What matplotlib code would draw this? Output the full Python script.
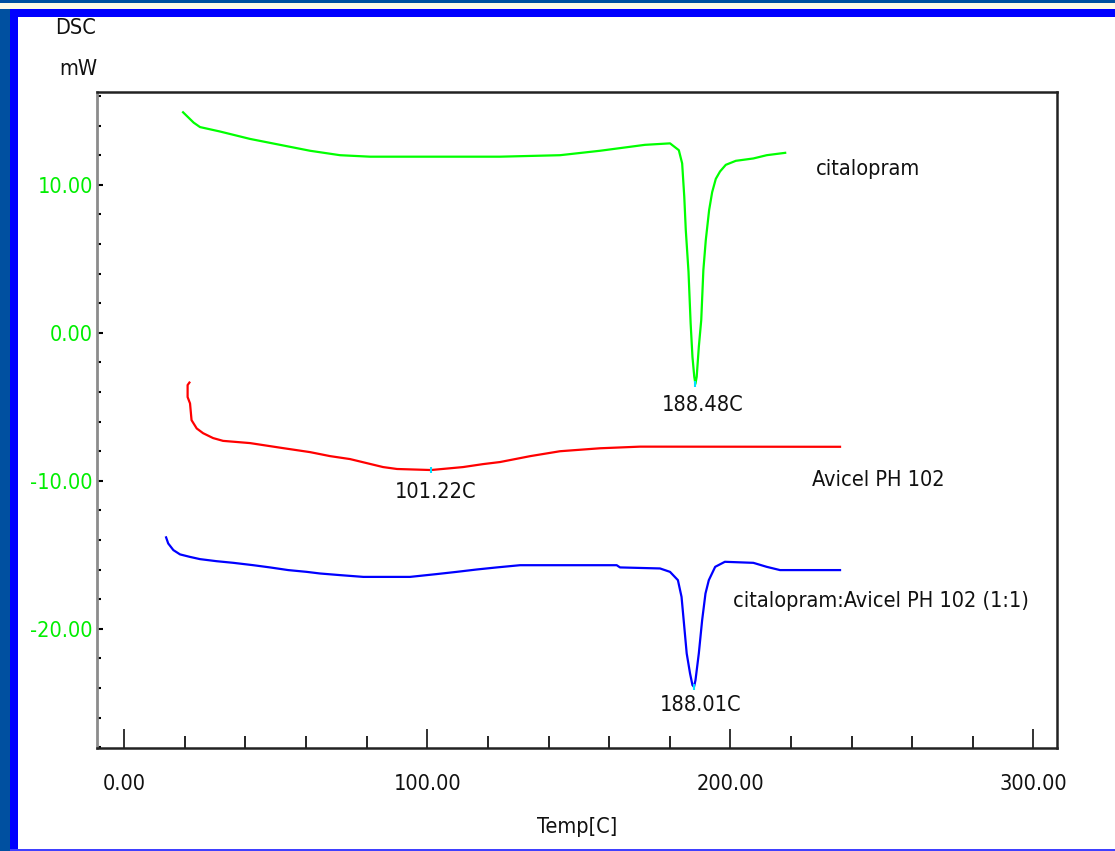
import numpy as np
import matplotlib
matplotlib.use("Agg")
import matplotlib.pyplot as plt
from matplotlib import font_manager
from matplotlib.patches import Rectangle
from matplotlib.ticker import MultipleLocator

## font: the most condensed plain sans we can find
order = {'ultra-condensed': 0, 'extra-condensed': 1, 'condensed': 2, 'semi-condensed': 3}
cond = [f for f in font_manager.fontManager.ttflist
        if str(f.stretch) in order and f.style == 'normal'
        and str(f.weight) in ('400', 'normal', 'regular', 'book')
        and 'Mono' not in f.name and 'Serif' not in f.name]
cond.sort(key=lambda f: order[str(f.stretch)])
if cond:
    fam = cond[0].name
    plt.rcParams['font.stretch'] = cond[0].stretch
else:
    fam = 'Liberation Sans'
plt.rcParams['font.family'] = [fam, 'DejaVu Sans']
plt.rcParams['axes.unicode_minus'] = False

## data (temp in C, heat flow in mW)
cit_t = [19.4, 22.9, 25.0, 31.6, 41.5, 51.4, 61.3, 71.2, 81.1, 124.0, 143.8, 157.0,
         171.8, 180.1, 183.0, 184.1, 184.8, 185.3, 186.2, 186.9, 187.5, 188.1, 188.48,
         188.9, 189.6, 190.4, 191.1, 191.9, 193.0, 194.0, 195.2, 196.6, 198.5, 201.8,
         207.6, 212.0, 218.1]
cit_y = [14.9, 14.2, 13.9, 13.6, 13.1, 12.7, 12.3, 12.0, 11.9, 11.9, 12.0, 12.3,
         12.7, 12.8, 12.34, 11.45, 9.19, 6.94, 4.12, 0.64, -1.62, -2.97, -3.45,
         -2.97, -0.95, 0.86, 4.24, 6.26, 8.29, 9.5, 10.4, 10.9, 11.35, 11.62,
         11.78, 12.0, 12.16]

avi_t = [21.5, 20.9, 20.9, 21.7, 22.2, 23.9, 26.0, 29.3, 32.6, 41.5, 52.4, 61.3,
         67.9, 74.5, 85.4, 90.0, 101.22, 111.8, 118.4, 124.0, 134.0, 143.8, 157.0,
         170.2, 236.2]
avi_y = [-3.36, -3.53, -4.34, -4.77, -5.90, -6.46, -6.78, -7.11, -7.30, -7.45, -7.79, -8.06,
         -8.33, -8.53, -9.07, -9.20, -9.27, -9.07, -8.87, -8.73, -8.33, -8.0, -7.8,
         -7.69, -7.70]

mix_t = [13.8, 14.5, 16.2, 18.4, 21.7, 25.0, 30.5, 36.0, 42.6, 48.1, 54.1, 60.2,
         64.6, 71.2, 78.9, 94.3, 103.1, 109.7, 116.3, 122.9, 130.6, 162.5, 163.6,
         176.8, 180.1, 182.7, 183.9, 184.6, 185.6, 186.7, 187.5, 188.01, 188.5,
         189.6, 190.7, 191.8, 192.9, 195.0, 198.2, 207.6, 212.0, 216.4, 236.2]
mix_y = [-13.82, -14.23, -14.68, -14.97, -15.14, -15.29, -15.43, -15.54, -15.70, -15.85, -16.03, -16.15,
         -16.26, -16.37, -16.49, -16.49, -16.30, -16.15, -15.99, -15.85, -15.70, -15.70, -15.85,
         -15.92, -16.15, -16.71, -17.84, -19.41, -21.66, -23.01, -23.80, -23.92, -23.47,
         -21.66, -19.41, -17.61, -16.71, -15.81, -15.47, -15.54, -15.81, -16.03, -16.03]

peaks_t = [188.48, 101.22, 188.01]
peaks_y = [-3.45, -9.27, -23.92]
peak_lbl = ['188.48C', '101.22C', '188.01C']

names_lbl = ['citalopram', 'Avicel PH 102', 'citalopram:Avicel PH 102 (1:1)']
names_xy = [(228.3, 11.1), (227.0, -9.95), (200.9, -18.14)]

xticks = [0, 100, 200, 300]
yticks = [10, 0, -10, -20]

fig = plt.figure(figsize=(11.15, 8.51), dpi=100)
fig.patch.set_facecolor('white')

# size the text so the long label is about as wide as in the picture (~297 px)
probe = fig.text(0, 0, names_lbl[2], fontsize=19)
pw = probe.get_window_extent(fig.canvas.get_renderer()).width
probe.remove()
fs = max(14, min(21, 19 * 297 / pw))

ax = fig.add_axes([97/1115, 1-748/851, (1057.3-97)/1115, (748-92)/851])

ax.plot(cit_t, cit_y, color='#00ff00', lw=1.6)
ax.plot(avi_t, avi_y, color='#ff0000', lw=1.6)
ax.plot(mix_t, mix_y, color='#0000ff', lw=1.6)
ax.plot(peaks_t, peaks_y, ls='none', marker='|', ms=5, mew=1.5, color='#00e0ff')

offs = [(2.5, -1.45), (1.5, -1.5), (2.3, -1.2)]
for t, y, lbl, (dx, dy) in zip(peaks_t, peaks_y, peak_lbl, offs):
    ax.text(t + dx, y + dy, lbl, ha='center', va='center', fontsize=fs, color='#111111')
for lbl, (x, y) in zip(names_lbl, names_xy):
    ax.text(x, y, lbl, ha='left', va='center', fontsize=fs, color='#111111')

ax.set_xlim(-9.0, 307.9)
ax.set_ylim(-28.05, 16.27)
ax.set_xticks(xticks)
ax.set_xticklabels(['%.2f' % v for v in xticks])
ax.set_yticks(yticks)
ax.set_yticklabels(['%.2f' % v for v in yticks])
ax.xaxis.set_minor_locator(MultipleLocator(20))
ax.yaxis.set_minor_locator(MultipleLocator(2))

ax.tick_params(axis='x', which='major', direction='in', length=13.5, width=1.2,
               pad=19, labelsize=fs, colors='#111111')
ax.tick_params(axis='x', which='minor', direction='in', length=8.5, width=1.2)
ax.tick_params(axis='y', which='major', direction='in', length=4, width=1.5,
               pad=3, labelsize=fs, labelcolor='#00ee00')
ax.tick_params(axis='y', which='minor', direction='in', length=3, width=1.5)

ax.spines['left'].set_color('#8c8c8c')
ax.spines['left'].set_linewidth(2)
for s in ['top', 'right', 'bottom']:
    ax.spines[s].set_color('#222222')
    ax.spines[s].set_linewidth(1.8)

ax.set_xlabel('Temp[C]', fontsize=fs, color='#111111', labelpad=16)

fig.text(96/1115, 1-28/851, 'DSC', ha='right', va='center', fontsize=fs, color='#111111')
fig.text(97/1115, 1-69/851, 'mW', ha='right', va='center', fontsize=fs, color='#111111')

## slide frame
W, H = 1115, 851
frame = [
    (0, 0, 10, H, '#0050a0'),
    (0, H-3, W, 3, '#0050a0'),
    (0, H-9, W, 6, '#fffbe6'),
    (10, 0, 8, H-9, '#0000ff'),
    (10, H-17, W-10, 8, '#0000ff'),
    (10, 0, W-10, 2, '#4040ff'),
]
for x0, y0, w, h, c in frame:
    fig.add_artist(Rectangle((x0/W, y0/H), w/W, h/H, transform=fig.transFigure,
                             facecolor=c, edgecolor='none', zorder=10))

fig.savefig('out.png', dpi=100)
